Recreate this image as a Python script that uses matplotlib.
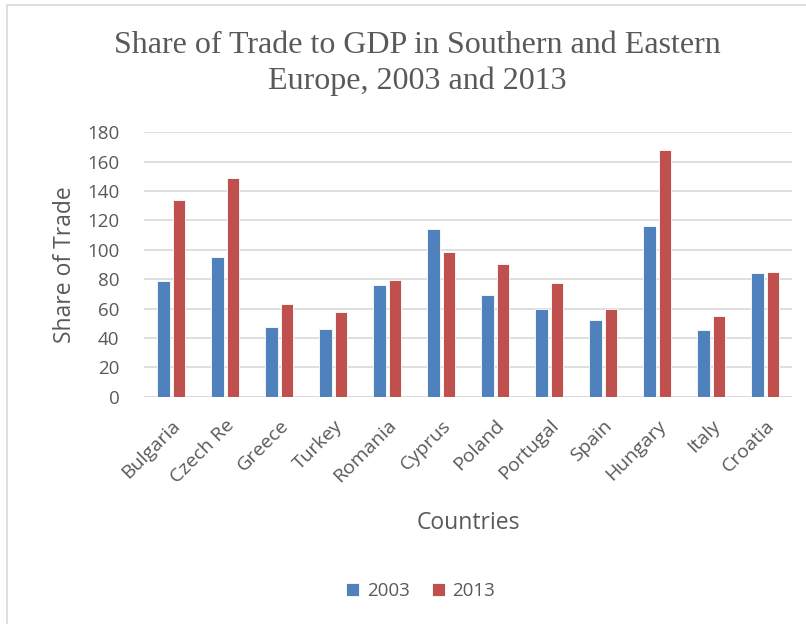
import matplotlib
import matplotlib.pyplot as plt
import numpy as np
from matplotlib.patches import Rectangle

matplotlib.use('Agg')

countries = ['Bulgaria', 'Czech Re', 'Greece', 'Turkey', 'Romania', 'Cyprus',
             'Poland', 'Portugal', 'Spain', 'Hungary', 'Italy', 'Croatia']
share_2003 = [78.5, 95.2, 47.6, 46.2, 76.0, 114.5, 69.0, 59.8, 52.4, 116.3, 45.4, 84.6]
share_2013 = [134.2, 148.7, 63.5, 57.4, 79.8, 98.4, 90.2, 77.8, 60.1, 168.2, 55.1, 85.0]
years = ['2003', '2013']
y_ticks = [0, 20, 40, 60, 80, 100, 120, 140, 160, 180]

BLUE = '#4f81bd'
RED = '#c0504d'
TEXT = '#595959'
SANS = 'Open Sans'

fig = plt.figure(figsize=(8.06, 6.24), dpi=100)
fig.patches.append(Rectangle((0.009, -0.01), 1.0, 1.002, transform=fig.transFigure,
                             fill=False, edgecolor='#d9d9d9', linewidth=1.2))

ax = fig.add_axes([0.179, 0.364, 0.804, 0.424])
x = np.arange(len(countries))
w = 0.235
ax.bar(x - 0.143, share_2003, w, color=BLUE, edgecolor='white', linewidth=0.6,
       label=years[0], zorder=3)
ax.bar(x + 0.143, share_2013, w, color=RED, edgecolor='white', linewidth=0.6,
       label=years[1], zorder=3)

ax.set_xlim(-0.5, len(countries) - 0.5)
ax.set_ylim(0, 180)
ax.set_yticks(y_ticks)
ax.yaxis.grid(True, color='#d9d9d9', linewidth=1.2, zorder=0)
for s in ax.spines.values():
    s.set_visible(False)
ax.axhline(0, color='#d9d9d9', linewidth=1.2, zorder=1)
ax.tick_params(length=0)
ax.tick_params(axis='y', labelsize=13.5, labelcolor=TEXT, pad=18)
for lbl in ax.get_yticklabels():
    lbl.set_fontfamily(SANS)

ax.set_xticks(x)
ax.set_xticklabels(countries, rotation=45, ha='right', va='top',
                   rotation_mode='anchor', fontsize=14, color=TEXT, family=SANS)
ax.tick_params(axis='x', pad=14)

ax.set_ylabel('Share of Trade', fontsize=16.5, color=TEXT, family=SANS, labelpad=7)
ax.set_xlabel('Countries', fontsize=16.5, color=TEXT, family=SANS, labelpad=17)

fig.suptitle('Share of Trade to GDP in Southern and Eastern\nEurope, 2003 and 2013',
             x=0.518, y=0.898, va='center', fontsize=23, color=TEXT,
             family='Liberation Serif', linespacing=1.3)

leg = fig.legend(loc='center', bbox_to_anchor=(0.522, 0.053), ncol=2, frameon=False,
                 handlelength=0.7, handleheight=0.7, handletextpad=0.4,
                 columnspacing=1.2, prop={'family': SANS, 'size': 13.5})
for t in leg.get_texts():
    t.set_color(TEXT)

fig.savefig('out.png', dpi=100)
